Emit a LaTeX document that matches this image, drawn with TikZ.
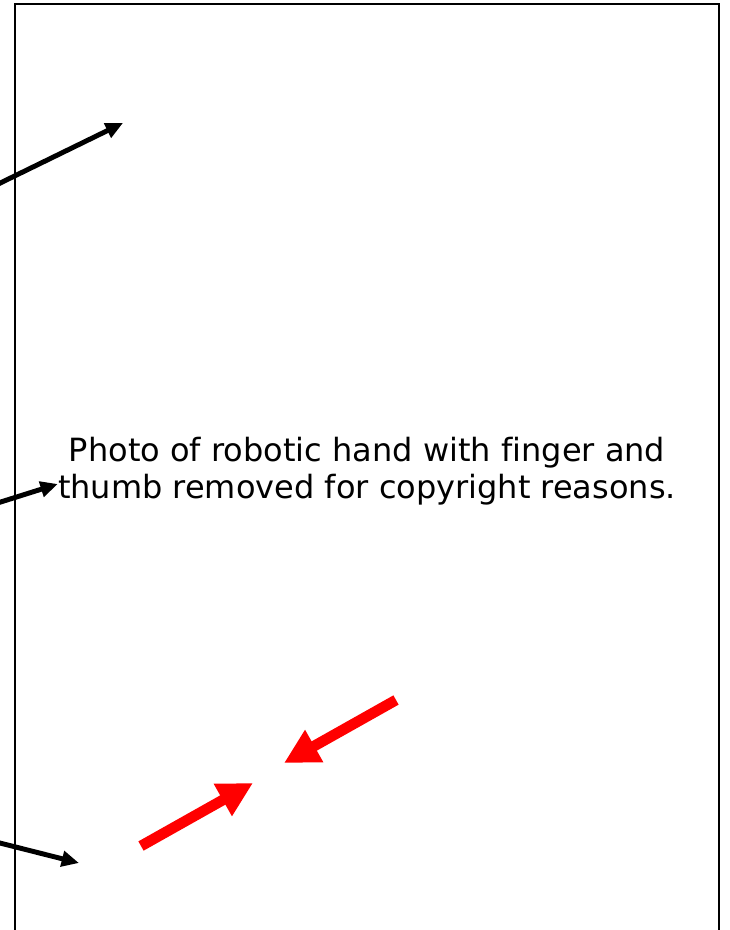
\documentclass[tikz,border=0pt]{standalone}
\usepackage{fontspec}
\setmainfont{DejaVu Sans}[Ligatures=NoCommon]
\usepackage{xcolor}
\definecolor{PointerRed}{RGB}{255,0,0}
\usepackage{tikz}
\usetikzlibrary{arrows.meta,positioning}

\begin{document}
\begin{tikzpicture}[x=0.75pt,y=-0.75pt,
  pointer/.style={line width=3.7pt,-{Triangle[length=13pt,width=11.5pt]}},
  squeeze/.style={PointerRed,line width=8pt,-{Triangle[length=26pt,width=26pt]}}]
  \clip (0,0) rectangle (729,930);
  \fill[white] (0,0) rectangle (729,930);
  % frame of the removed photo
  \draw[line width=1.4pt] (15,4) rectangle (719,960);
  \node[inner sep=0pt,align=center,font=\fontsize{24pt}{27.75pt}\selectfont] (note) at (367,471)
    {Photo of robotic hand with finger and\\thumb removed for copyright reasons.};
  % black pointers from the left
  \coordinate (topfrom) at (-12,189);
  \coordinate (topto) at (123,123);
  \coordinate (midfrom) at (-12,506);
  \draw[pointer] (topfrom) -- (topto);
  \draw[pointer] (midfrom) -- (note.west|-0,484);
  \coordinate (lowfrom) at (-12,840);
  \coordinate (lowto) at (79,863);
  \draw[pointer] (lowfrom) -- (lowto);
  % red squeeze arrows
  \coordinate (leftfrom) at (141,846);
  \coordinate (leftto) at (253,783);
  \coordinate (rightfrom) at (396,700);
  \coordinate (rightto) at (284,763);
  \draw[squeeze] (leftfrom) -- (leftto);
  \draw[squeeze] (rightfrom) -- (rightto);
\end{tikzpicture}
\end{document}
